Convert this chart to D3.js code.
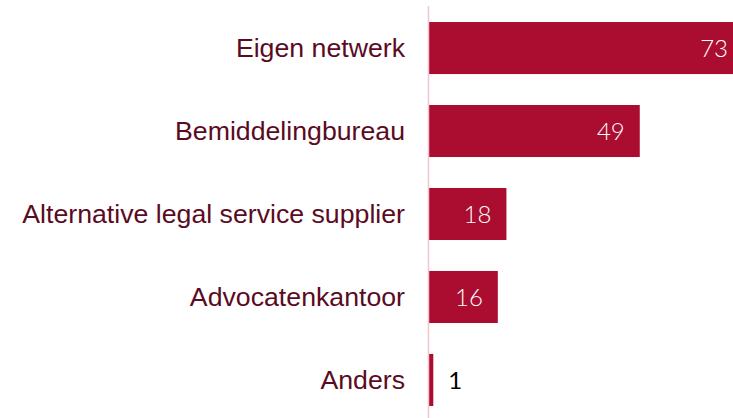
<!DOCTYPE html>
<html>
<head>
<meta charset="utf-8" />
<title>Bar chart</title>
<script src="https://cdn.jsdelivr.net/npm/d3@7"></script>
<style>
	body { margin: 0; background: #ffffff; }
</style>
</head>
<body>
<div id="my_dataviz"></div>
<script>
// data
var categories = ["Eigen netwerk", "Bemiddelingbureau", "Alternative legal service supplier", "Advocatenkantoor", "Anders"];
var values = [73, 49, 18, 16, 1];

var width = 733, height = 418;

var svg = d3.select("#my_dataviz")
	.append("svg")
	.attr("width", width)
	.attr("height", height);

// X scale (bars start at the axis line)
var x = d3.scaleLinear()
	.domain([0, 73])
	.range([429, 743]);

// Y scale
var y = d3.scaleBand()
	.domain(categories)
	.range([6.5, 421.5])
	.paddingInner(0.373)
	.paddingOuter(0.187);

var data = categories.map(function(c, i) { return {cat: c, val: values[i]}; });

// bars
svg.append("g")
	.selectAll("rect")
	.data(data)
	.enter()
	.append("rect")
	.attr("x", x(0))
	.attr("y", function(d) { return y(d.cat); })
	.attr("width", function(d) { return x(d.val) - x(0); })
	.attr("height", y.bandwidth())
	.attr("fill", "#aa0d30");

// axis line
svg.append("line")
	.attr("x1", 428.5).attr("x2", 428.5)
	.attr("y1", 6).attr("y2", height)
	.attr("stroke", "#f6c3cf")
	.attr("stroke-width", 1.5);

// category labels
svg.append("g")
	.selectAll("text")
	.data(data)
	.enter()
	.append("text")
	.attr("x", 405)
	.attr("y", function(d) { return y(d.cat) + y.bandwidth() / 2; })
	.attr("dy", "0.35em")
	.attr("text-anchor", "end")
	.style("font-family", "'Liberation Sans', Arial, sans-serif")
	.style("font-size", "26.7px")
	.style("fill", "#5b0b1f")
	.text(function(d) { return d.cat; });

// value labels (inside when bar is wide enough)
svg.append("g")
	.selectAll("text")
	.data(data)
	.enter()
	.append("text")
	.attr("x", function(d) { return d.val > 5 ? x(d.val) - 15 : x(d.val) + 15; })
	.attr("y", function(d) { return y(d.cat) + y.bandwidth() / 2; })
	.attr("dy", "0.36em")
	.attr("text-anchor", function(d) { return d.val > 5 ? "end" : "start"; })
	.style("font-family", "Lato, 'Open Sans', sans-serif")
	.style("font-weight", function(d) { return d.val > 5 ? 300 : 400; })
	.style("font-size", "24px")
	.style("fill", function(d) { return d.val > 5 ? "#ffffff" : "#000000"; })
	.text(function(d) { return d.val; });
</script>
</body>
</html>
